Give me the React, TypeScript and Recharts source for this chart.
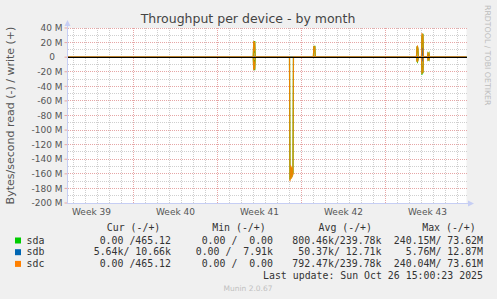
import React from 'react';
import { LineChart, Line, XAxis, YAxis, CartesianGrid, ReferenceLine } from 'recharts';

// time axis: days since Mon 22 Sep 2025 00:00 (start of week 39)
const times = [
  1.5,
  16.98, 17.02, 17.06, 17.1, 17.14,
  20.0, 20.04, 20.08, 20.13, 20.17, 20.21, 20.25, 20.29, 20.33,
  21.99, 22.03, 22.07, 22.11, 22.15,
  30.58, 30.62, 30.66, 30.7, 30.74,
  31.0, 31.04, 31.08, 31.12, 31.16,
  31.5, 31.54, 31.58, 31.62, 31.66,
  34.75,
];

// values in MB/s, read drawn negative
const sdaRead = [
  0,
  0, -17, -4, -18, 0,
  0, -168, -150, -166, -152, -164, -155, -160, 0,
  0, 0, 0, 0, 0,
  0, -5, -6.5, -4, 0,
  0, -24, -12, -22, 0,
  0, -3.5, -2.5, -3.7, 0,
  0,
];
const sdaWrite = [
  0,
  0, 21, 6, 22, 0,
  0, 0, 0, 0, 0, 0, 0, 0, 0,
  0, 15, 9, 15.5, 0,
  0, 13, 15, 11, 0,
  0, 30, 18, 32, 0,
  0, 5, 4, 5.5, 0,
  0,
];
const sdbRead = [
  0,
  0, 0, 0, 0, 0,
  0, 0, 0, 0, 0, 0, 0, 0, 0,
  0, 0, 0, 0, 0,
  0, 0, 0, 0, 0,
  0, -2, -5.7, -1, 0,
  0, 0, 0, 0, 0,
  0,
];
const sdbWrite = [
  0,
  0, 0, 0, 0, 0,
  0, 0, 0, 0, 0, 0, 0, 0, 0,
  0, 0, 0, 0, 0,
  0, 0, 0, 0, 0,
  0, 5, 12.8, 4, 0,
  0, 0, 0, 0, 0,
  0,
];
const sdcRead = [
  0,
  0, -18, -6, -17, 0,
  0, -170, -148, -167, -150, -165, -152, -162, 0,
  0, 0, 0, 0, 0,
  0, -5.5, -6, -4.5, 0,
  0, -23, -14, -21, 0,
  0, -3.7, -2.5, -3.5, 0,
  0,
];
const sdcWrite = [
  0,
  0, 22, 8, 21, 0,
  0, 0, 0, 0, 0, 0, 0, 0, 0,
  0, 15.5, 8, 15, 0,
  0, 14, 15, 12, 0,
  0, 33, 20, 31, 0,
  0, 5.5, 4, 5, 0,
  0,
];

const weekTicks = [3.5, 10.5, 17.5, 24.5, 31.5];
const weekLabels = ['Week 39', 'Week 40', 'Week 41', 'Week 42', 'Week 43'];
const weekStarts = [7, 14, 21, 28];
const dayLines = Array.from({ length: 33 }, (_, i) => i + 2).filter((d) => !weekStarts.includes(d));
const yTicks = [40, 20, 0, -20, -40, -60, -80, -100, -120, -140, -160, -180, -200];
const yMinor = [30, 10, -10, -30, -50, -70, -90, -110, -130, -150, -170, -190];

const devices = ['sda', 'sdb', 'sdc'];
const curVals = ['0.00 /465.12', '5.64k/ 10.66k', '0.00 /465.12'];
const minVals = ['0.00 /  0.00', '0.00 /  7.91k', '0.00 /  0.00'];
const avgVals = ['800.46k/239.78k', ' 50.37k/ 12.71k', '792.47k/239.78k'];
const maxVals = ['240.15M/ 73.62M', '  5.76M/ 12.87M', '240.04M/ 73.61M'];
const lastUpdate = 'Last update: Sun Oct 26 15:00:23 2025';

const COLORS: Record<string, string> = { sda: '#00cc00', sdb: '#0066b3', sdc: '#ff8000' };
const SANS = '"DejaVu Sans", Verdana, sans-serif';
const MONO = '"DejaVu Sans Mono", monospace';
const MINOR = '#cfcfcf';
const MAJOR = '#e6a6a6';
const AXIS = '#c6cef4';

const data = times.map((t, i) => ({
  t,
  sdaR: sdaRead[i],
  sdaW: sdaWrite[i],
  sdbR: sdbRead[i],
  sdbW: sdbWrite[i],
  sdcR: sdcRead[i],
  sdcW: sdcWrite[i],
}));

const fmtX = (v: number) => weekLabels[weekTicks.indexOf(v)] ?? '';

// rrdtool keeps room for the unit, so a bare "0" sits further left
const YTick = ({ x, y, payload }: any) => {
  const v = payload.value;
  return (
    <text
      x={v === 0 ? x - 7.5 : x}
      y={y}
      dy="0.355em"
      textAnchor="end"
      fill="#555"
      fontSize={9}
      fontFamily={SANS}
    >
      {v === 0 ? '0' : `${v} M`}
    </text>
  );
};

const series = [
  { key: 'sdaR', dev: 'sda' },
  { key: 'sdaW', dev: 'sda' },
  { key: 'sdbR', dev: 'sdb' },
  { key: 'sdbW', dev: 'sdb' },
  { key: 'sdcR', dev: 'sdc' },
  { key: 'sdcW', dev: 'sdc' },
];

const rowY = [243.5, 255.2, 266.9];
const pre = { whiteSpace: 'pre' } as const;

export default function App() {
  return (
    <div style={{ position: 'absolute', left: 0, top: 0, width: 497, height: 299, background: '#f0f0f0' }}>
      <LineChart
        width={497}
        height={299}
        data={data}
        margin={{ top: 28, right: 30.5, bottom: 66, left: 7.5 }}
      >
        <CartesianGrid fill="#ffffff" stroke="none" horizontal={false} vertical={false} />
        {dayLines.map((d) => (
          <ReferenceLine key={`d${d}`} x={d} stroke={MINOR} strokeDasharray="1 1" shapeRendering="crispEdges" />
        ))}
        {yMinor.map((v) => (
          <ReferenceLine key={`m${v}`} y={v} stroke={MINOR} strokeDasharray="1 1" shapeRendering="crispEdges" />
        ))}
        {weekStarts.map((d) => (
          <ReferenceLine key={`w${d}`} x={d} stroke={MAJOR} strokeDasharray="1 1" shapeRendering="crispEdges" />
        ))}
        {yTicks.map((v) => (
          <ReferenceLine key={`y${v}`} y={v} stroke={MAJOR} strokeDasharray="1 1" shapeRendering="crispEdges" />
        ))}
        <XAxis
          dataKey="t"
          type="number"
          domain={[1.5, 34.75]}
          ticks={weekTicks}
          tickFormatter={fmtX}
          axisLine={false}
          tickLine={false}
          tickSize={0}
          tickMargin={6}
          height={30}
          interval={0}
          tick={{ fill: '#555', fontSize: 9, fontFamily: SANS }}
        />
        <YAxis
          type="number"
          domain={[-200, 40]}
          ticks={yTicks}
          axisLine={false}
          tickLine={{ stroke: MAJOR }}
          tickSize={3}
          tickMargin={2}
          width={60}
          interval={0}
          tick={<YTick />}
        />
        {series.map((s) => (
          <Line
            key={s.key}
            dataKey={s.key}
            type="linear"
            stroke={COLORS[s.dev]}
            strokeWidth={1.2}
            strokeOpacity={s.dev === 'sdc' ? 0.9 : 1}
            dot={false}
            activeDot={false}
            isAnimationActive={false}
          />
        ))}
        <ReferenceLine y={0} stroke="#000" strokeWidth={1} shapeRendering="crispEdges" zIndex={1000} />
      </LineChart>

      <svg
        width={497}
        height={299}
        style={{ position: 'absolute', left: 0, top: 0, pointerEvents: 'none' }}
      >
        {/* axes with arrows */}
        <line x1={67.5} y1={203.5} x2={67.5} y2={24} stroke={AXIS} strokeWidth={1} />
        <polygon points="64.5,26 70.5,26 67.5,20" fill={AXIS} />
        <line x1={67} y1={203.5} x2={469} y2={203.5} stroke={AXIS} strokeWidth={1} />
        <polygon points="468,200.5 468,206.5 474,203.5" fill={AXIS} />

        <text x={248} y={23} textAnchor="middle" fill="#444" fontSize={12.5} fontFamily={SANS}>
          Throughput per device - by month
        </text>
        <text
          transform="translate(14,115.5) rotate(-90)"
          textAnchor="middle"
          fill="#555"
          fontSize={11}
          fontFamily={SANS}
        >
          Bytes/second read (-) / write (+)
        </text>
        <text
          transform="translate(484.5,5) rotate(90)"
          textAnchor="start"
          fill="#bdbdbd"
          fontSize={7.8}
          fontFamily={SANS}
        >
          RRDTOOL / TOBI OETIKER
        </text>

        {/* legend */}
        <g fontFamily={MONO} fontSize={9.9} fill="#333">
          <text x={106.8} y={230.6} xmlSpace="preserve" style={pre}>Cur (-/+)</text>
          <text x={212.2} y={230.6} xmlSpace="preserve" style={pre}>Min (-/+)</text>
          <text x={318.5} y={230.6} xmlSpace="preserve" style={pre}>Avg (-/+)</text>
          <text x={422.2} y={230.6} xmlSpace="preserve" style={pre}>Max (-/+)</text>
          {devices.map((dev, i) => (
            <g key={dev}>
              <rect x={15} y={rowY[i] - 6} width={6} height={6} fill={COLORS[dev]} />
              <text x={26.5} y={rowY[i]}>{dev}</text>
              <text x={171} y={rowY[i]} textAnchor="end" xmlSpace="preserve" style={pre}>{curVals[i]}</text>
              <text x={273} y={rowY[i]} textAnchor="end" xmlSpace="preserve" style={pre}>{minVals[i]}</text>
              <text x={381.5} y={rowY[i]} textAnchor="end" xmlSpace="preserve" style={pre}>{avgVals[i]}</text>
              <text x={483} y={rowY[i]} textAnchor="end" xmlSpace="preserve" style={pre}>{maxVals[i]}</text>
            </g>
          ))}
          <text x={483} y={279.2} textAnchor="end" xmlSpace="preserve" style={pre}>{lastUpdate}</text>
        </g>
        <text x={248} y={291} textAnchor="middle" fill="#c0c0c0" fontSize={7.5} fontFamily={SANS}>
          Munin 2.0.67
        </text>
      </svg>
    </div>
  );
}
